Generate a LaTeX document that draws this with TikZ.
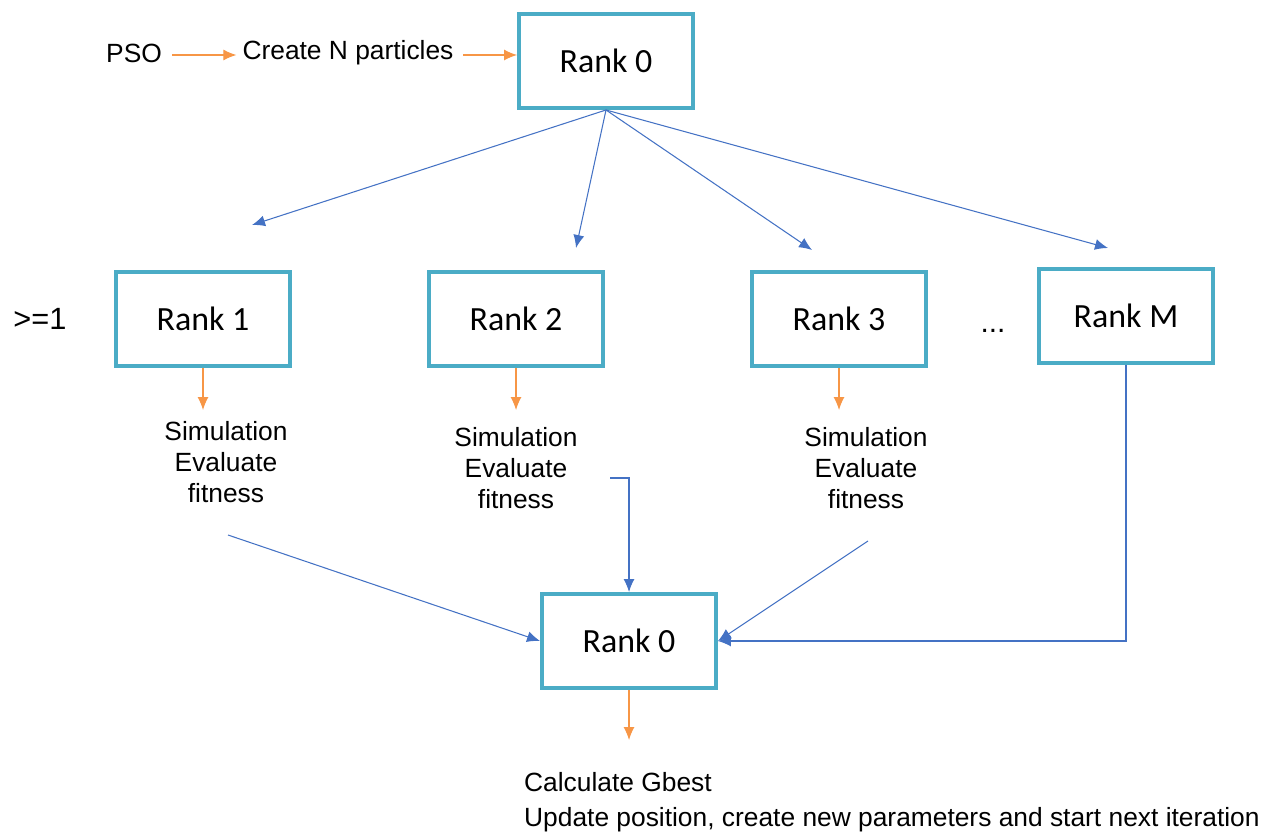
\documentclass[tikz,border=0pt]{standalone}
\usepackage{fontspec}
\setmainfont{Liberation Sans}
\newfontfamily\boxfont{Carlito}
\usepackage{tikz}
\usetikzlibrary{arrows.meta}
\definecolor{rankcol}{RGB}{75,172,198}
\definecolor{flowblue}{RGB}{68,114,196}
\definecolor{floworange}{RGB}{247,150,70}

\begin{document}
\begin{tikzpicture}[x=0.02cm,y=-0.02cm,
	rank/.style={draw=rankcol,line width=0.08cm,minimum width=3.48cm,minimum height=1.88cm,font=\boxfont\fontsize{19.3}{22}\selectfont},
	lbl/.style={font=\fontsize{15}{18}\selectfont},
	sim/.style={align=center,font=\fontsize{15}{17.6}\selectfont},
	blu/.style={draw=flowblue,line width=0.6pt,-{Latex[length=2.6mm,width=2.2mm]}},
	org/.style={draw=floworange,line width=0.6pt,-{Latex[length=2.6mm,width=2.2mm]}}]
					\useasboundingbox (0,0) rectangle (1277,834);
					% top row
					\node[lbl] (pso) at (134,53) {PSO};
					\node[lbl] (create) at (348,53) {Create N particles};
					\node[rank] (top) at (606,61) {Rank 0};
					\coordinate (a1) at (172,55);
					\coordinate (a2) at (463,55);
					\draw[org] (a1) -- (a1 -| create.west);
					\draw[org] (a2) -- (a2 -| top.west);
					% workers
					\node[font=\fontsize{17.5}{20}\selectfont] (geq) at (40,319) {>=1};
					\node[rank] (r1) at (203,319) {Rank 1};
					\node[rank] (r2) at (516,319) {Rank 2};
					\node[rank] (r3) at (839,319) {Rank 3};
					\node[rank] (rM) at (1126,316) {Rank M};
					\node[font=\fontsize{17}{20}\selectfont] (dots) at (993,331) {...};
					\coordinate (t1) at (252,225);
					\coordinate (t2) at (576,248);
					\coordinate (t3) at (812,250);
					\coordinate (t4) at (1108,248);
					\foreach \t in {t1,t2,t3,t4}
						\draw[blu] (top.south) -- (\t);
					% simulation texts
					\node[sim,anchor=north] (s1) at (226,415) {Simulation\\Evaluate\\fitness};
					\node[sim,anchor=north] (s2) at (516,421) {Simulation\\Evaluate\\fitness};
					\node[sim,anchor=north] (s3) at (866,421) {Simulation\\Evaluate\\fitness};
					\draw[org] (r1.south) -- (203,410);
					\draw[org] (r2.south) -- (516,410);
					\draw[org] (r3.south) -- (839,410);
					% gather
					\node[rank] (bot) at (629,641) {Rank 0};
					\coordinate (f1) at (228,535);
					\coordinate (f2) at (610,478);
					\coordinate (f3) at (868,541);
					\draw[blu] (f1) -- (bot.west);
					\draw[blu] (f2) -| (bot.north);
					\draw[blu] (f3) -- (bot.east);
					\draw[blu] (rM.south) |- (bot.east);
					\draw[org] (bot.south) -- (629,740);
					\node[align=left,anchor=north west,font=\fontsize{15}{19.8}\selectfont] (calc) at (518,766) {Calculate Gbest\\Update position, create new parameters and start next iteration};
				\end{tikzpicture}
\end{document}
